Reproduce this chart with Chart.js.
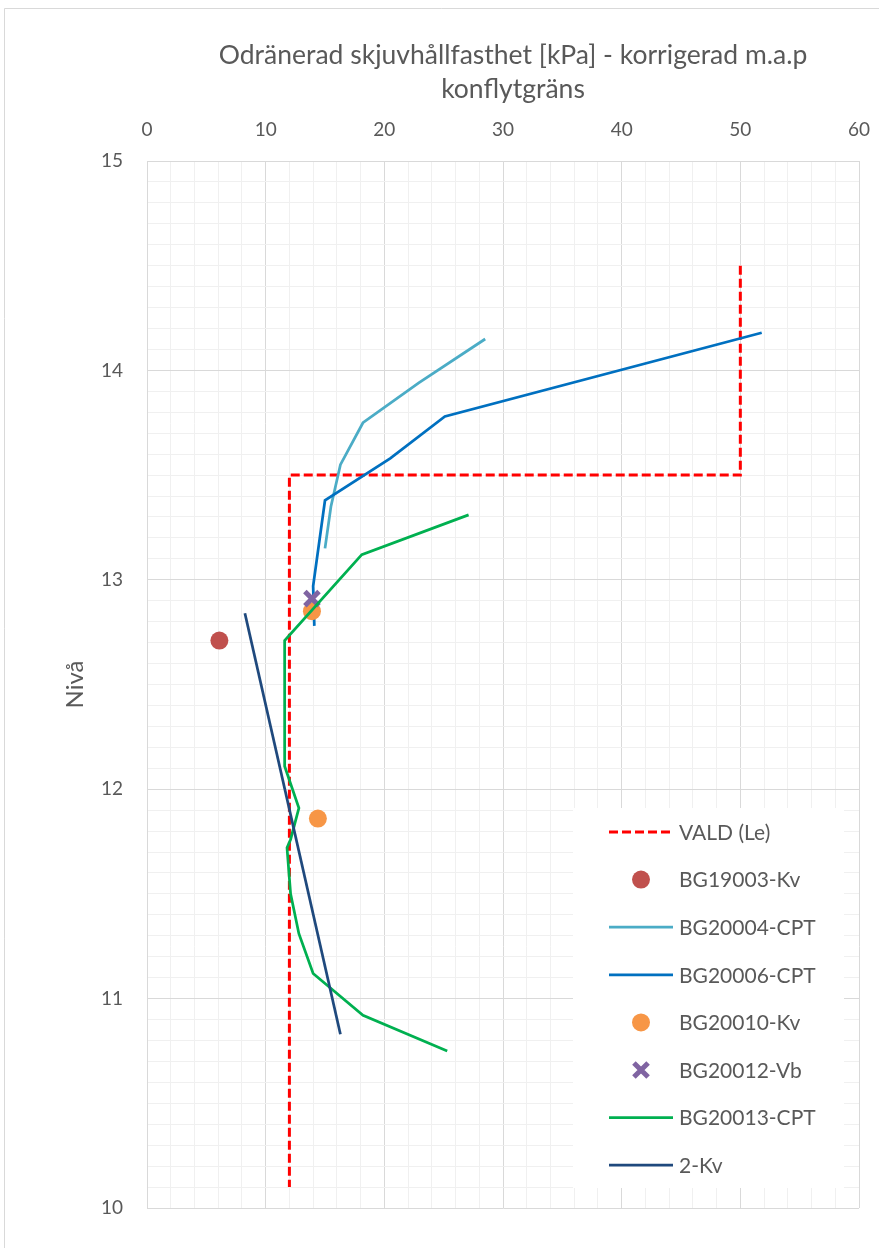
<!DOCTYPE html>
<html><head><meta charset="utf-8">
<script src="https://cdn.jsdelivr.net/npm/chart.js@4.4.1/dist/chart.umd.min.js"></script>
<style>html,body{margin:0;padding:0;background:#fff;overflow:hidden}
#wrap{position:absolute;left:0;top:0;width:879px;height:1248px}</style>
</head><body><div id="wrap"><canvas id="c" width="879" height="1248"></canvas></div>
<script>
// ---- data ----
const titleLines = ['Odränerad skjuvhållfasthet [kPa] - korrigerad m.a.p', 'konflytgräns'];
const yTitle = 'Nivå';
const xTickLabels = [0, 10, 20, 30, 40, 50, 60];
const yTickLabels = [10, 11, 12, 13, 14, 15];

const seriesNames = ['VALD (Le)', 'BG19003-Kv', 'BG20004-CPT', 'BG20006-CPT', 'BG20010-Kv', 'BG20012-Vb', 'BG20013-CPT', '2-Kv'];

const valdX = [50, 50, 12, 12];
const valdY = [14.5, 13.5, 13.5, 10.1];
const bg19003X = [6.1];
const bg19003Y = [12.71];
const bg20004X = [28.5, 22.9, 18.2, 16.3, 15.5, 15.0];
const bg20004Y = [14.15, 13.94, 13.75, 13.55, 13.35, 13.15];
const bg20006X = [51.8, 25.1, 20.5, 15.0, 14.0, 14.1];
const bg20006Y = [14.18, 13.78, 13.58, 13.38, 12.97, 12.78];
const bg20010X = [13.9, 14.4];
const bg20010Y = [12.85, 11.86];
const bg20012X = [13.9];
const bg20012Y = [12.91];
const bg20013X = [27.1, 18.1, 11.6, 11.6, 12.8, 12.1, 11.8, 12.1, 12.8, 14.0, 18.2, 25.3];
const bg20013Y = [13.31, 13.12, 12.71, 12.11, 11.91, 11.76, 11.72, 11.5, 11.31, 11.12, 10.92, 10.75];
const kv2X = [8.25, 16.3];
const kv2Y = [12.84, 10.83];

// ---- build ----
const FONT = "Lato, 'Open Sans', sans-serif";
const TXT = '#595959';
const pts = (xs, ys) => xs.map((x, i) => ({x: x, y: ys[i]}));

function lineDs(label, xs, ys, color, extra) {
  return Object.assign({label, data: pts(xs, ys), showLine: true, borderColor: color, backgroundColor: color,
    borderWidth: 2.75, pointRadius: 0, tension: 0, kind: 'line'}, extra || {});
}
function markDs(label, xs, ys, color, style, r, bw) {
  return {label, data: pts(xs, ys), showLine: false, borderColor: color, backgroundColor: color,
    pointStyle: style, pointRadius: r, pointBorderWidth: bw, borderWidth: bw, kind: 'mark'};
}

const datasets = [
  lineDs(seriesNames[0], valdX, valdY, '#FF0000', {borderDash: [9, 4], borderWidth: 3}),
  markDs(seriesNames[1], bg19003X, bg19003Y, '#C0504D', 'circle', 9, 0),
  lineDs(seriesNames[2], bg20004X, bg20004Y, '#4BACC6'),
  lineDs(seriesNames[3], bg20006X, bg20006Y, '#0070C0'),
  markDs(seriesNames[4], bg20010X, bg20010Y, '#F79646', 'circle', 9, 0),
  markDs(seriesNames[5], bg20012X, bg20012Y, '#8064A2', 'crossRot', 10, 5),
  lineDs(seriesNames[6], bg20013X, bg20013Y, '#00B050'),
  lineDs(seriesNames[7], kv2X, kv2Y, '#1F497D')
];
datasets.forEach((d, i) => { d.order = -i; });

const frame = {
  id: 'frame',
  beforeDraw(chart) {
    const c = chart.ctx;
    c.save();
    c.fillStyle = '#fff';
    c.fillRect(0, 0, chart.width, chart.height);
    c.strokeStyle = '#D9D9D9';
    c.lineWidth = 1;
    c.beginPath();
    c.moveTo(4.5, chart.height);
    c.lineTo(4.5, 8.5);
    c.lineTo(chart.width, 8.5);
    c.stroke();
    // chart title
    const a = chart.chartArea;
    const cx = (a.left + a.right) / 2 + 10;
    c.fillStyle = TXT;
    c.font = '26.5px ' + FONT;
    c.textAlign = 'center';
    c.textBaseline = 'middle';
    titleLines.forEach((t, i) => c.fillText(t, cx, 55 + i * 34));
    c.restore();
  }
};

function drawMarker(c, d, x, y) {
  c.save();
  if (d.pointStyle === 'circle') {
    c.fillStyle = d.backgroundColor;
    c.beginPath(); c.arc(x, y, d.pointRadius, 0, Math.PI * 2); c.fill();
  } else {
    const r = d.pointRadius * 0.7071;
    c.strokeStyle = d.borderColor; c.lineWidth = d.borderWidth; c.lineCap = 'butt';
    c.beginPath();
    c.moveTo(x - r, y - r); c.lineTo(x + r, y + r);
    c.moveTo(x - r, y + r); c.lineTo(x + r, y - r);
    c.stroke();
  }
  c.restore();
}

const customLegend = {
  id: 'customLegend',
  afterDraw(chart) {
    const c = chart.ctx, a = chart.chartArea;
    const left = a.right - 286, right = a.right - 15, top = a.bottom - 400, bottom = a.bottom - 20;
    c.save();
    c.fillStyle = '#fff';
    c.fillRect(left, top, right - left, bottom - top);
    const ds = chart.data.datasets;
    const x0 = left + 36, x1 = left + 100, tx = left + 106;
    c.font = '21px ' + FONT;
    c.textBaseline = 'middle';
    c.textAlign = 'left';
    ds.forEach((d, i) => {
      const y = top + 24 + i * 47.6;
      if (d.kind === 'line') {
        c.save();
        c.strokeStyle = d.borderColor; c.lineWidth = d.borderWidth;
        c.setLineDash(d.borderDash || []);
        c.beginPath(); c.moveTo(x0, y); c.lineTo(x1, y); c.stroke();
        c.restore();
      } else {
        drawMarker(c, d, (x0 + x1) / 2, y);
      }
      c.fillStyle = TXT;
      c.fillText(d.label, tx, y + 1);
    });
    c.restore();
  }
};

new Chart(document.getElementById('c'), {
  type: 'scatter',
  data: {datasets},
  options: {
    responsive: false,
    animation: false,
    events: [],
    layout: {padding: {left: 40, right: 20, top: 111, bottom: 40}},
    plugins: {
      legend: {display: false},
      tooltip: {enabled: false},
      title: {display: false}
    },
    scales: {
      x: {
        type: 'linear', position: 'top', min: 0, max: 60,
        ticks: {stepSize: 2, autoSkip: false, maxRotation: 0, padding: 1, color: TXT,
          font: {family: FONT, size: 19},
          callback: v => xTickLabels.includes(v) ? String(v) : ''},
        grid: {drawTicks: true, tickLength: 19, tickColor: 'rgba(0,0,0,0)', lineWidth: 1,
          color: ctx => (ctx.tick && xTickLabels.includes(ctx.tick.value)) ? '#D9D9D9' : '#F0F0F0'},
        border: {display: true, color: '#D9D9D9'},
        afterFit: s => { s.height = 50; }
      },
      y: {
        type: 'linear', position: 'left', min: 10, max: 15,
        ticks: {stepSize: 0.1, autoSkip: false, padding: 24, color: TXT,
          font: {family: FONT, size: 19},
          callback: v => yTickLabels.includes(v) ? String(v) : ''},
        grid: {drawTicks: false, lineWidth: 1,
          color: ctx => (ctx.tick && yTickLabels.includes(ctx.tick.value)) ? '#D9D9D9' : '#F0F0F0'},
        border: {display: true, color: '#D9D9D9'},
        title: {display: true, text: yTitle, color: TXT, font: {family: FONT, size: 24}, padding: {top: 21, bottom: 0}},
        afterFit: s => { s.width = 107; }
      }
    }
  },
  plugins: [frame, customLegend]
});
</script></body></html>
